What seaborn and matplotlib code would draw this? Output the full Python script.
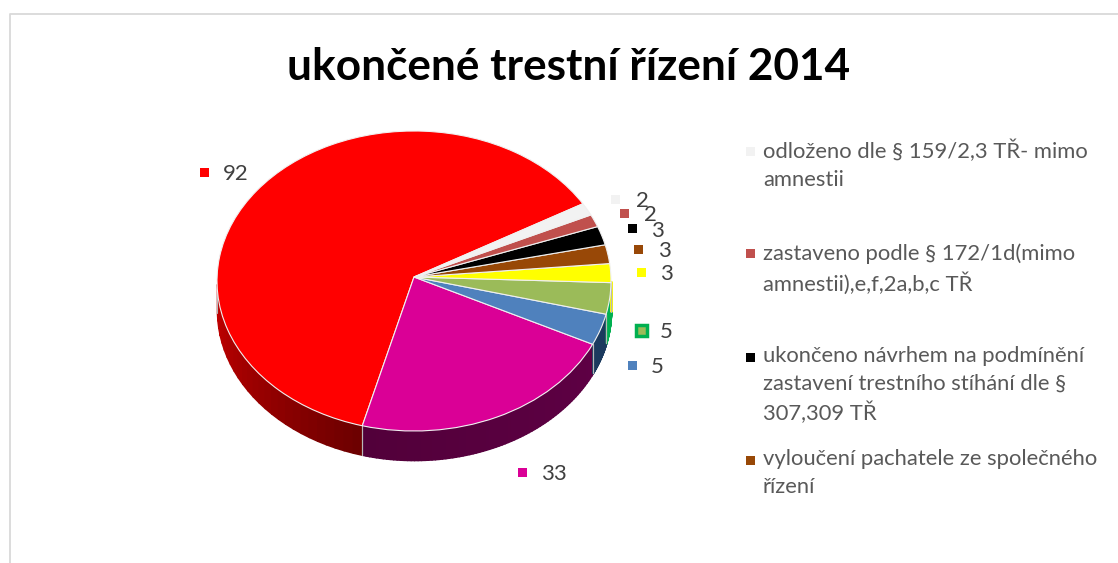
import numpy as np
import matplotlib.pyplot as plt
from matplotlib.lines import Line2D
from matplotlib.patches import PathPatch, Rectangle
from matplotlib.path import Path
import seaborn as sns

sns.set_theme(style="white")
plt.rcParams['font.family'] = ['Lato', 'DejaVu Sans']

W, H = 1118, 563

# hodnoty, od cervene proti smeru hodinovych rucicek
hodnoty = [92, 33, 5, 5, 3, 3, 3, 2, 2]
barvy = ['#FF0000', '#DA0096', '#4F81BD', '#9BBB59', '#FFFF00', '#984807', '#000000', '#C0504D', '#F2F2F2']
# boky vyseci: barva vlevo -> vpravo
boky = [('#C40000', '#6A0000'), ('#52003A', '#5E0044'), ('#1B3A5E', '#1B3A5E'), ('#00B050', '#00B050'),
        ('#FFFF00', '#FFFF00'), ('#984807', '#984807'), ('#000000', '#000000'), ('#C0504D', '#C0504D'), ('#F2F2F2', '#F2F2F2')]

legenda = [
    'odloženo dle § 159/2,3 TŘ- mimo\namnestii',
    'zastaveno podle § 172/1d(mimo\namnestii),e,f,2a,b,c TŘ',
    'ukončeno návrhem na podmínění\nzastavení trestního stíhání dle §\n307,309 TŘ',
    'vyloučení pachatele ze společného\nřízení',
]
legenda_barvy = ['#F2F2F2', '#C0504D', '#000000', '#984807']

# geometrie kolace v pixelech
cx, cy = 414, 281
rx, ry = 197, 150
hloubka = 29 / ry
posun_stredu = 4 / ry  # perspektiva: stred je nad stredem elipsy


def fx(px):
    return px / W


def fy(py):
    return 1 - py / H


fig = plt.figure(figsize=(W / 100, H / 100), dpi=100, facecolor='white')
ax = fig.add_axes([0, 0, 1, 1])

wedges, _ = ax.pie(
    hodnoty,
    colors=sns.color_palette(barvy),
    startangle=31,
    radius=1,
)
ax.set_aspect('auto')
ax.set_xlim(-cx / rx, (W - cx) / rx)
ax.set_ylim(-(H - cy) / ry, cy / ry)

# horni plocha s posunutym stredem
for w in wedges:
    p = w.get_patch_transform().transform_path(w.get_path())
    v = p.vertices.copy()
    r2 = np.clip((v ** 2).sum(axis=1), 0, 1)
    v[:, 1] += posun_stredu * (1 - r2)
    ax.add_patch(PathPatch(Path(v, p.codes), facecolor=w.get_facecolor(), edgecolor='#F0F0F0', lw=0.8, zorder=5))
    w.set_visible(False)

# boky - jen spodni polovina elipsy
for w, (b1, b2) in zip(wedges, boky):
    t1, t2 = w.theta1 % 360, w.theta2 % 360
    if t2 < t1:
        t2 += 360
    uhly = np.radians(np.linspace(t1, t2, 80))
    uhly = uhly[np.sin(uhly) < 0]
    if len(uhly) < 2:
        continue
    odstiny = sns.blend_palette([b1, b2], len(uhly))
    for i in range(len(uhly) - 1):
        xs = np.cos(uhly[i:i + 2])
        ys = np.sin(uhly[i:i + 2])
        ax.fill_between(xs, ys - hloubka, ys, color=odstiny[i], lw=1.2, zorder=2)
    for u in (uhly[0], uhly[-1]):
        ax.plot([np.cos(u)] * 2, [np.sin(u), np.sin(u) - hloubka], color='#B8B8B8', lw=0.8, zorder=3)

# ramecek grafu
fig.add_artist(Line2D([fx(9.5), fx(9.5), 1], [0, fy(14), fy(14)], color='#D9D9D9', lw=1.3))

fig.text(fx(569), fy(67), 'ukončené trestní řízení 2014', fontsize=31.8, fontweight='bold',
         color='black', ha='center', va='center')


def znacka(px, py, barva, vel=9, okraj=None):
    fig.add_artist(Rectangle((fx(px - vel / 2), fy(py + vel / 2)), vel / W, vel / H, facecolor=barva,
                             edgecolor=okraj if okraj else barva, lw=2.5 if okraj else 0,
                             transform=fig.transFigure))


# popisky hodnot: znacka + cislo
popisky = [
    (204, 172, 223, 174, '92', '#FF0000', None),
    (522, 472, 541, 474, '33', '#DA0096', None),
    (632, 365, 651, 367, '5', '#4F81BD', None),
    (641, 330, 660, 332, '5', '#9BBB59', '#00B050'),
    (641, 272, 660, 274, '3', '#FFFF00', None),
    (638, 249, 658, 251, '3', '#984807', None),
    (632, 229, 651, 231, '3', '#000000', None),
    (624, 213, 644, 215, '2', '#C0504D', None),
    (616, 199, 636, 201, '2', '#F2F2F2', None),
]
for mx, my, tx, ty, txt, barva, okraj in popisky:
    znacka(mx, my, barva, vel=11 if okraj else 9, okraj=okraj)
    fig.text(fx(tx), fy(ty), txt, fontsize=16, color='#404040', ha='left', va='center')

# legenda
for i, (txt, barva) in enumerate(zip(legenda, legenda_barvy)):
    y0 = 151 + 103 * i
    znacka(750.5, y0, barva)
    fig.text(fx(763), fy(y0 - 11), txt, fontsize=15.8, color='#595959', ha='left', va='top', linespacing=1.47)

fig.savefig('out.png', dpi=100)
